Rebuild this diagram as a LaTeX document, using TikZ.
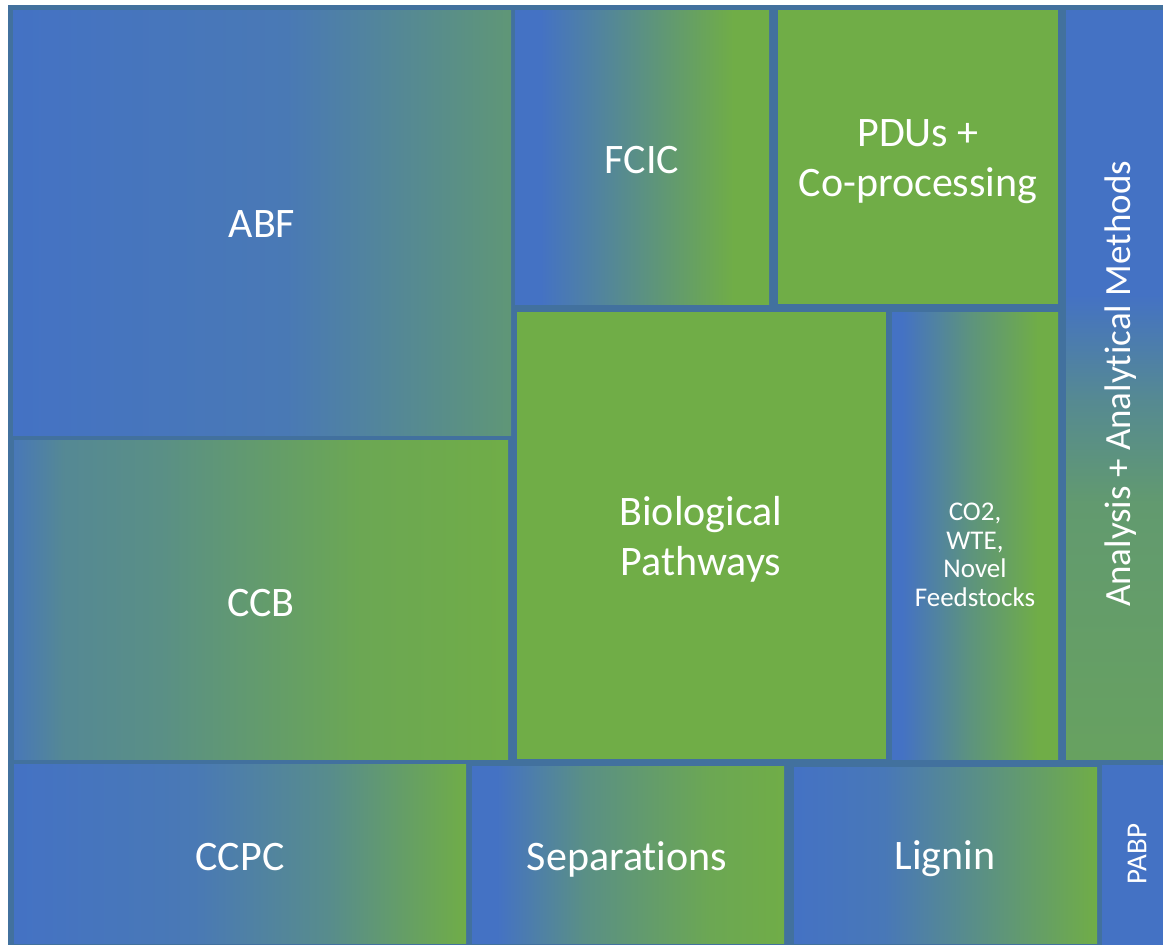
\documentclass[tikz,border=0pt]{standalone}
\usepackage{fontspec}
\setmainfont{Carlito}[Ligatures=NoCommon]

% palette
\definecolor{cblue}{RGB}{68,114,196}
\definecolor{cgreen}{RGB}{112,173,71}
\definecolor{cframe}{RGB}{66,113,158}
\colorlet{mixA}{cblue!88!cgreen}
\colorlet{mixB}{cblue!60!cgreen}
\colorlet{mixC}{cgreen!62!cblue}
\colorlet{mixD}{cblue!45!cgreen}
\colorlet{mixE}{cblue!90!cgreen}
\colorlet{mixF}{cblue!62!cgreen}
\colorlet{mixG}{cblue!50!cgreen}
\colorlet{mixH}{cgreen!90!cblue}
\colorlet{mixI}{cblue!55!cgreen}
\colorlet{mixJ}{cblue!60!cgreen}
\colorlet{mixK}{cgreen!80!cblue}
\colorlet{mixL}{cgreen!68!cblue}

% left-to-right shadings; the box spans 25bp..75bp of each shading
\pgfdeclarehorizontalshading{abfsh}{100bp}{color(0bp)=(cblue); color(25bp)=(cblue); color(52.5bp)=(mixA); color(65bp)=(mixB); color(75bp)=(mixC); color(100bp)=(mixC)}
\pgfdeclarehorizontalshading{fcicsh}{100bp}{color(0bp)=(cblue); color(30bp)=(cblue); color(51bp)=(mixD); color(68bp)=(cgreen); color(100bp)=(cgreen)}
\pgfdeclarehorizontalshading{cotwosh}{100bp}{color(0bp)=(cblue); color(28bp)=(cblue); color(48bp)=(mixD); color(69bp)=(cgreen); color(100bp)=(cgreen)}
\pgfdeclarehorizontalshading{ccbsh}{100bp}{color(0bp)=(mixE); color(25bp)=(mixE); color(30bp)=(mixF); color(40bp)=(mixG); color(60bp)=(mixH); color(75bp)=(cgreen); color(100bp)=(cgreen)}
\pgfdeclarehorizontalshading{ccpcsh}{100bp}{color(0bp)=(cblue); color(25bp)=(cblue); color(45bp)=(mixA); color(60bp)=(mixI); color(75bp)=(cgreen); color(100bp)=(cgreen)}
\pgfdeclarehorizontalshading{sepsh}{100bp}{color(0bp)=(cblue); color(29bp)=(cblue); color(43bp)=(mixG); color(63bp)=(mixH); color(75bp)=(cgreen); color(100bp)=(cgreen)}
\pgfdeclarehorizontalshading{lignsh}{100bp}{color(0bp)=(cblue); color(25bp)=(cblue); color(40bp)=(mixE); color(57.5bp)=(mixD); color(75bp)=(cgreen); color(100bp)=(cgreen)}
% bottom-to-top shading for the tall column on the right
\pgfdeclareverticalshading{anash}{100bp}{color(0bp)=(mixK); color(25bp)=(mixK); color(42bp)=(mixL); color(49bp)=(mixJ); color(56bp)=(cblue); color(100bp)=(cblue)}

\tikzset{
  lbl/.style={text=white, align=center, inner sep=0pt, font=\fontsize{42}{50}\selectfont},
  smalllbl/.style={text=white, align=center, inner sep=0pt, font=\fontsize{27}{28.5}\selectfont},
  sidelbl/.style={text=white, align=center, inner sep=0pt, font=\fontsize{37}{44}\selectfont, rotate=90},
}

\begin{document}
\begin{tikzpicture}[x=1pt,y=-1pt]
  \useasboundingbox (0,0) rectangle (1163,945);
  \fill[white] (0,0) rectangle (1163,945);
  % frame behind the tiles
  \fill[cframe] (8,5) rectangle (1163,945);

  % tiles
  \shade[shading=abfsh] (13,10) rectangle (511,435);
  \shade[shading=fcicsh] (515,10) rectangle (769,304);
  \fill[cgreen] (778,10) rectangle (1058,304);
  \shade[shading=anash] (1066,10) rectangle (1163,759);
  \shade[shading=ccbsh] (14,440) rectangle (508,759);
  \fill[cgreen] (517,312) rectangle (886,759);
  \shade[shading=cotwosh] (892,312) rectangle (1058,759);
  \shade[shading=ccpcsh] (14,764) rectangle (466,943);
  \shade[shading=sepsh] (472,766) rectangle (784,943);
  \shade[shading=lignsh] (794,767) rectangle (1097,943);
  \fill[cblue] (1102,765) rectangle (1163,945);

  % labels
  \node[lbl] (abf) at (262,224) {ABF};
  \node[lbl] (fcic) at (642,160) {FCIC};
  \node[lbl] (pdus) at (918,162) {PDUs +\\Co-processing};
  \node[lbl] (ccb) at (261,603) {CCB};
  \node[lbl] (bio) at (701,539) {Biological\\Pathways};
  \node[smalllbl] (cotwo) at (975,555) {CO2,\\WTE,\\Novel\\Feedstocks};
  \node[lbl] (ccpc) at (240,857) {CCPC};
  \node[lbl] (sep) at (627,859) {Separations};
  \node[lbl] (lignin) at (945,859) {Lignin};
  \node[sidelbl] (ana) at (1121,384) {Analysis + Analytical Methods};
  \node[text=white, inner sep=0pt, font=\fontsize{29}{35}\selectfont, rotate=90] (pabp) at (1137,854) {PABP};
\end{tikzpicture}
\end{document}
